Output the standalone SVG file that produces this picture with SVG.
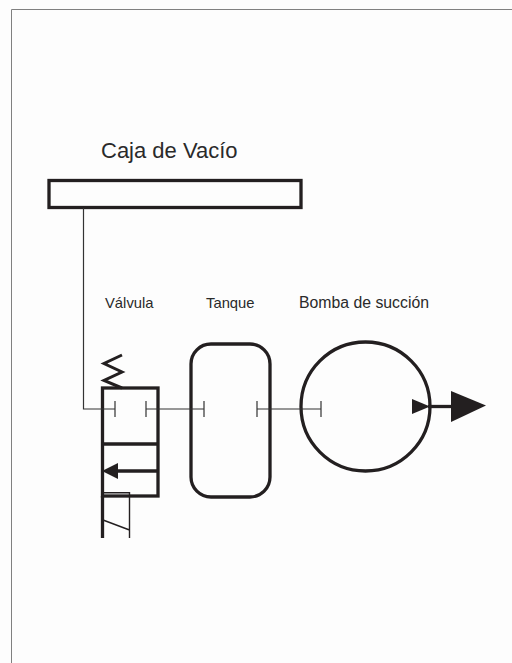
<svg xmlns="http://www.w3.org/2000/svg" width="512" height="663" viewBox="0 0 512 663">
<style>
.k{fill:none;stroke:#231f20;stroke-width:3.300}
.m{fill:none;stroke:#231f20;stroke-width:3}
.t{fill:none;stroke:#333;stroke-width:1.200}
.f{fill:#231f20;stroke:none}
text{font-family:"Liberation Sans",Arial,sans-serif;fill:#2a2a2a}
</style>
<rect width="512" height="663" fill="#fdfdfd"/>
<path d="M11.500 663V9.500H512" fill="none" stroke="#808080" stroke-width="1"/>
<g id="caja">
<text x="101" y="158" font-size="22">Caja de Vacío</text>
<rect class="k" x="49" y="180.500" width="252" height="27"/>
</g>
<g id="valvula">
<text x="105" y="308" font-size="14.800">Válvula</text>
<rect class="k" x="102.500" y="388" width="55.500" height="108"/>
<path class="k" d="M102.500 444H158M158 471H115"/>
<path class="f" d="M102 471L118 463V479Z"/>
<path class="m" d="M122 355L104 363.500L122 372L104 380.500L122 388"/>
<path class="k" d="M102.500 496V538"/>
<path d="M102.500 492.800H129.500V538M103 520L129.500 530" fill="none" stroke="#231f20" stroke-width="1.400"/>
</g>
<g id="tanque">
<text x="206" y="308" font-size="14.800">Tanque</text>
<rect class="k" x="191" y="344" width="79" height="153" rx="20"/>
</g>
<g id="bomba">
<text x="299" y="308" font-size="15.800">Bomba de succión</text>
<circle class="k" cx="365.500" cy="406.500" r="64.500"/>
<path class="f" d="M412 399L430 406.500L412 414Z"/>
<path class="k" d="M428 406.500H452"/>
<path class="f" d="M451 391L486 405.500L451 422Z"/>
</g>
<g id="connectors">
<path class="t" d="M83.500 208V409H115M115 401V417M146 401V417M146 409H204M204 401V417M257 401V417M257 409H321M321 401V417"/>
</g>
</svg>
